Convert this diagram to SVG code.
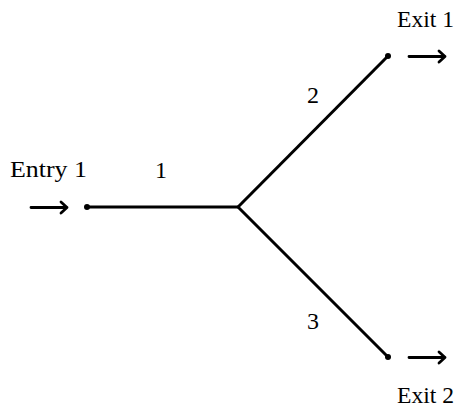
<svg xmlns="http://www.w3.org/2000/svg" width="457" height="408" viewBox="0 0 457 408">
<style>
.t{font-family:"Liberation Serif","Times New Roman",serif;font-size:24px;fill:#000}
.e{stroke:#000;stroke-width:3;fill:none;stroke-linecap:butt}
.a{stroke:#000;stroke-width:2.8;fill:none;stroke-linecap:round;stroke-linejoin:round}
</style>
<rect width="457" height="408" fill="#fff"/>
<g id="connectors">
<line class="e" x1="87" y1="207" x2="238" y2="207"/>
<line class="e" x1="238" y1="207" x2="388" y2="56"/>
<line class="e" x1="238" y1="207" x2="388" y2="357"/>
</g>
<g id="entry1">
<path class="a" d="M31 207.5H67M61 202L67 207.5L61 213"/>
<circle cx="87" cy="207" r="3" fill="#000"/>
<text class="t" x="48.5" y="177" text-anchor="middle" textLength="77" lengthAdjust="spacingAndGlyphs">Entry 1</text>
</g>
<g id="exit1">
<circle cx="388" cy="56" r="3" fill="#000"/>
<path class="a" d="M409 56.5H445M439 51L445 56.5L439 62"/>
<text class="t" x="425.5" y="27" text-anchor="middle" textLength="57" lengthAdjust="spacingAndGlyphs">Exit 1</text>
</g>
<g id="exit2">
<circle cx="388" cy="357" r="3" fill="#000"/>
<path class="a" d="M409 357.5H445M439 352L445 357.5L439 363"/>
<text class="t" x="425.5" y="403" text-anchor="middle" textLength="57" lengthAdjust="spacingAndGlyphs">Exit 2</text>
</g>
<g id="labels">
<text class="t" x="161" y="178" text-anchor="middle">1</text>
<text class="t" x="313" y="103" text-anchor="middle">2</text>
<text class="t" x="313" y="329" text-anchor="middle">3</text>
</g>
</svg>
